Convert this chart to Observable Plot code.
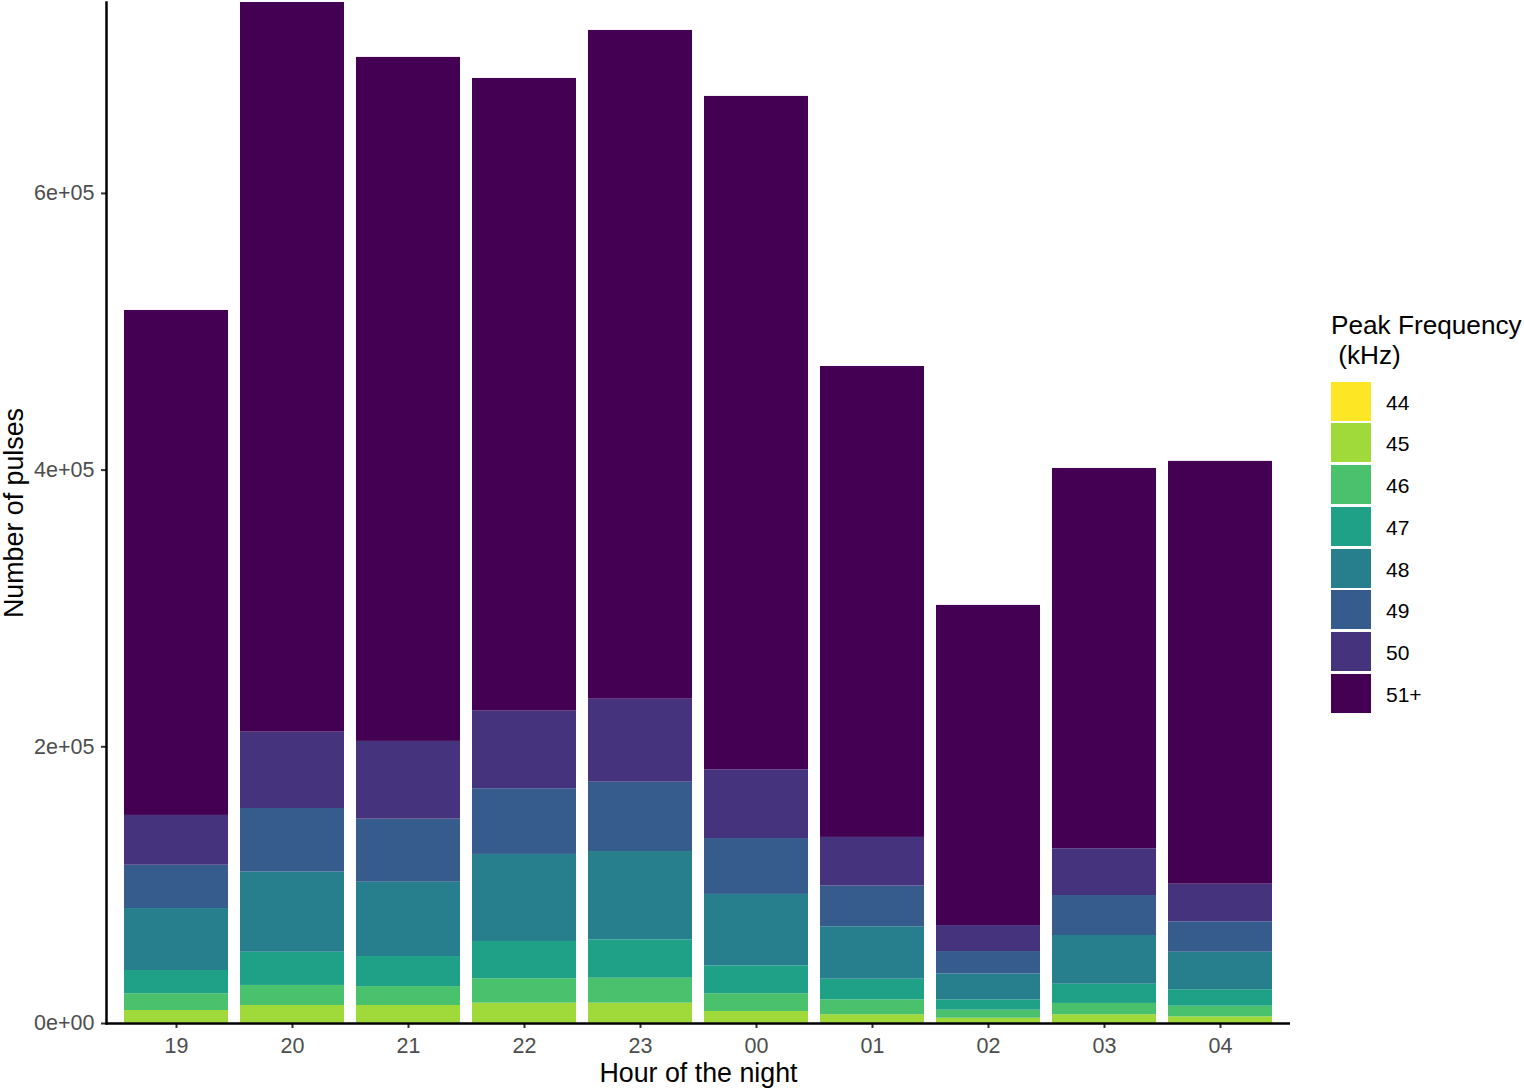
<!DOCTYPE html>
<html>
<head>
<meta charset="utf-8">
<script src="https://cdn.jsdelivr.net/npm/d3@7"></script>
<script src="https://cdn.jsdelivr.net/npm/@observablehq/plot@0.6"></script>
<style>
  html, body { margin: 0; padding: 0; background: #fff; }
  #wrap { position: relative; width: 1524px; height: 1089px; font-family: "Liberation Sans", Arial, sans-serif; }
  #legend { position: absolute; left: 0; top: 0; }
  .ltitle { position: absolute; left: 1331px; top: 310px; font-size: 26.2px; line-height: 30px; color: #000; white-space: pre; }
  .sw { position: absolute; left: 1331px; width: 40px; height: 39px; }
  .lab { position: absolute; left: 1386px; top: 0; font-size: 21px; line-height: 41px; height: 39px; color: #000; }
</style>
</head>
<body>
<div id="wrap"></div>
<script>
const hours = ["19", "20", "21", "22", "23", "00", "01", "02", "03", "04"];
const freqs = ["44", "45", "46", "47", "48", "49", "50", "51+"];
const colors = ["#FDE725", "#9FDA3A", "#4AC16D", "#1FA187", "#277F8E", "#365C8D", "#46337E", "#440154"];

const f44 = [300, 300, 300, 300, 300, 300, 200, 100, 200, 200];
const f45 = [9100, 12700, 12700, 14400, 14400, 8400, 6100, 3700, 6100, 4600];
const f46 = [12100, 14500, 13700, 17600, 18000, 12800, 10800, 5800, 8200, 7700];
const f47 = [16800, 24000, 21700, 27000, 27800, 20200, 14900, 7500, 13900, 11900];
const f48 = [44800, 57900, 53700, 62900, 63800, 51600, 37900, 18800, 35200, 27100];
const f49 = [31300, 46000, 45600, 47500, 50100, 40400, 29400, 16100, 28900, 22000];
const f50 = [36000, 55200, 56200, 56100, 60000, 49700, 35200, 18800, 33800, 27200];
const f51 = [365000, 527400, 494400, 457300, 483400, 486700, 340400, 231400, 274900, 305600];

const yTicks = [0, 200000, 400000, 600000];

const series = [f44, f45, f46, f47, f48, f49, f50, f51];
const rows = [];
hours.forEach((h, i) => {
  freqs.forEach((f, j) => rows.push({hour: h, freq: f, count: series[j][i]}));
});
const totals = hours.map((h, i) => d3.sum(series, s => s[i]));

const fmt = d => d.toExponential(0).replace(/e([+-])(\d)$/, "e$10$2");

const chart = Plot.plot({
  width: 1524,
  height: 1089,
  marginLeft: 106,
  marginRight: 234,
  marginTop: 2,
  marginBottom: 66,
  style: {fontFamily: "Liberation Sans, Arial, sans-serif", fontSize: "21.5px", background: "transparent"},
  x: {type: "band", domain: hours, paddingInner: 0.1, paddingOuter: 0.15, label: null},
  y: {domain: [0, d3.max(totals)], label: null},
  color: {domain: freqs, range: colors},
  marks: [
    Plot.barY(rows, {x: "hour", y: "count", fill: "freq"}),
    Plot.axisX({tickSize: 5, tickPadding: 9, stroke: "#333", strokeWidth: 2, fill: "#4D4D4D", fontSize: 21.5, label: null}),
    Plot.axisY({ticks: yTicks, tickFormat: fmt, tickSize: 5, tickPadding: 7, stroke: "#333", strokeWidth: 2, fill: "#4D4D4D", fontSize: 21.5, label: null}),
    Plot.ruleY([0], {stroke: "#000", strokeWidth: 2.5}),
    Plot.frame({anchor: "left", stroke: "#000", strokeWidth: 2.5}),
    Plot.text(["Hour of the night"], {text: d => d, frameAnchor: "bottom", dy: 58, fontSize: 26.8, fill: "#000"}),
    Plot.text(["Number of pulses"], {text: d => d, frameAnchor: "left", textAnchor: "middle", dx: -92.5, rotate: -90, fontSize: 26.8, fill: "#000"})
  ]
});

const wrap = document.getElementById("wrap");
wrap.appendChild(chart);

const cs = chart.scale("color");
const leg = document.createElement("div");
leg.id = "legend";
const t = document.createElement("div");
t.className = "ltitle";
t.textContent = "Peak Frequency\n (kHz)";
leg.appendChild(t);
cs.domain.forEach((d, i) => {
  const top = 381.7 + i * 41.75;
  const sw = document.createElement("div");
  sw.className = "sw";
  sw.style.top = top + "px";
  sw.style.background = cs.apply(d);
  leg.appendChild(sw);
  const lb = document.createElement("div");
  lb.className = "lab";
  lb.style.top = top + "px";
  lb.textContent = d;
  leg.appendChild(lb);
});
wrap.appendChild(leg);
</script>
</body>
</html>
